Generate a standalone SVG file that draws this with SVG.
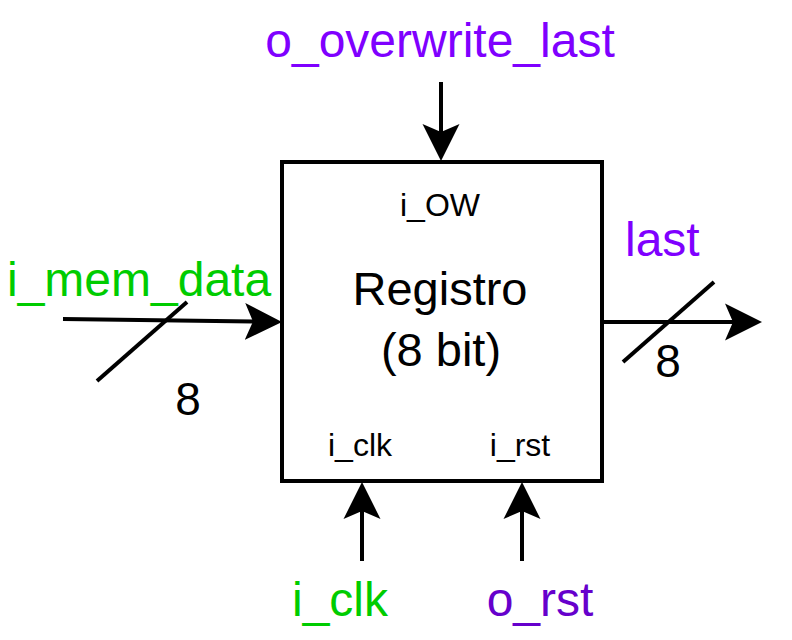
<svg xmlns="http://www.w3.org/2000/svg" width="792" height="640" viewBox="0 0 792 640">
<defs>
<marker id="arr" markerUnits="userSpaceOnUse" markerWidth="38" markerHeight="40" viewBox="0 0 38 40" refX="8" refY="20" orient="auto">
<path d="M37,20 L0,1.5 L8,20 L0,38.5 Z" fill="#000"/>
</marker>
<style>
text{font-family:"Liberation Sans",Arial,sans-serif;}
.big{font-size:48px;}
.small{font-size:32px;fill:#000;}
.green{fill:#00CC00;}
.purple{fill:#7F00FF;}
.violet{fill:#6600CC;}
.wire{stroke:#000;stroke-width:4;fill:none;}
</style>
</defs>
<rect width="792" height="640" fill="#fff"/>
<g id="connectors">
<line class="wire" x1="441" y1="82" x2="441" y2="132" marker-end="url(#arr)"/>
<line class="wire" x1="63" y1="319" x2="253" y2="321.5" marker-end="url(#arr)"/>
<line class="wire" x1="97" y1="381" x2="187" y2="302"/>
<line class="wire" x1="602" y1="322" x2="733" y2="322" marker-end="url(#arr)"/>
<line class="wire" x1="623" y1="362" x2="714" y2="282"/>
<line class="wire" x1="362" y1="561" x2="362" y2="511" marker-end="url(#arr)"/>
<line class="wire" x1="522" y1="561" x2="522" y2="511" marker-end="url(#arr)"/>
</g>
<g id="registro">
<rect x="282" y="162" width="320" height="319" fill="#fff" stroke="#000" stroke-width="4"/>
<text x="440" y="305" font-size="47" text-anchor="middle">Registro</text>
<text x="441" y="366" font-size="47" text-anchor="middle">(8 bit)</text>
<text class="small" x="440" y="216" text-anchor="middle">i_OW</text>
<text class="small" x="360" y="456" text-anchor="middle">i_clk</text>
<text class="small" x="520" y="456" text-anchor="middle">i_rst</text>
</g>
<g id="label-overwrite"><text class="big purple" x="440" y="57" text-anchor="middle">o_overwrite_last</text></g>
<g id="label-mem-data"><text class="big green" x="7" y="296">i_mem_data</text></g>
<g id="label-8-in"><text x="188" y="415" font-size="46" text-anchor="middle">8</text></g>
<g id="label-last"><text class="big purple" x="625" y="256">last</text></g>
<g id="label-8-out"><text x="668" y="377" font-size="46" text-anchor="middle">8</text></g>
<g id="label-clk"><text class="big green" x="340" y="616" text-anchor="middle">i_clk</text></g>
<g id="label-rst"><text class="big violet" x="540" y="616" text-anchor="middle">o_rst</text></g>
</svg>
